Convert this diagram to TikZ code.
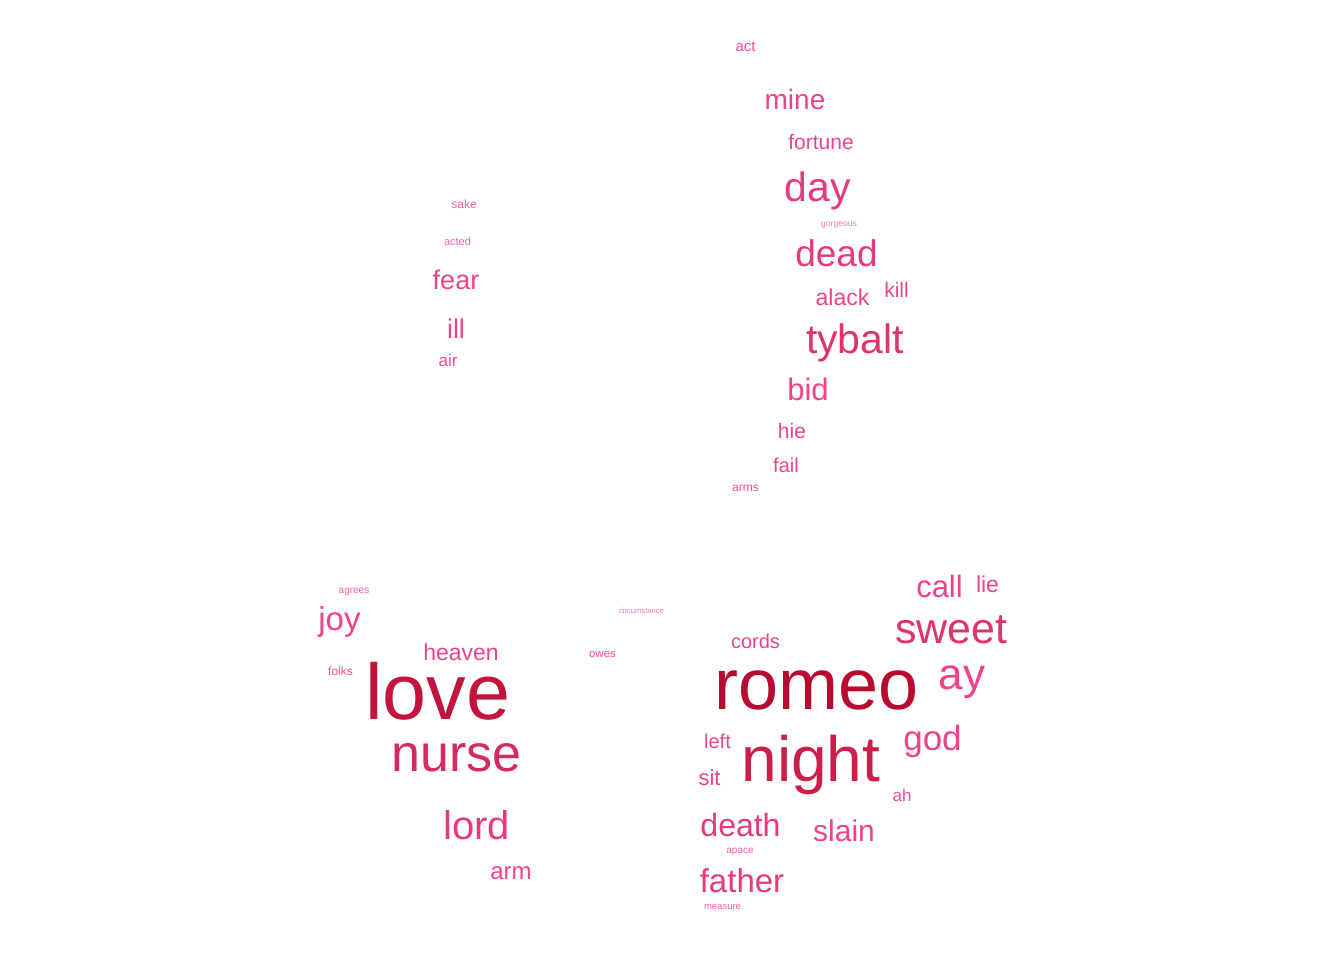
\documentclass[tikz,border=0pt]{standalone}
\usepackage{fontspec}
\setmainfont{Liberation Sans}
\definecolor{wc1}{HTML}{B80A30}
\definecolor{wc2}{HTML}{C2143C}
\definecolor{wc3}{HTML}{CC1E4A}
\definecolor{wc4}{HTML}{D62A5E}
\definecolor{wc5}{HTML}{DF326E}
\definecolor{wc6}{HTML}{E8397C}
\definecolor{wc7}{HTML}{EE4389}
\definecolor{wc8}{HTML}{F24E94}
\definecolor{wc9}{HTML}{F562A2}
\definecolor{wc10}{HTML}{F778B4}
\tikzset{
  word/.style 2 args={anchor=base, inner sep=0pt, text=#2, font=\fontsize{#1}{#1}\selectfont}
}
\begin{document}
\begin{tikzpicture}[x=1pt,y=-1pt]
	\useasboundingbox (0,0) rectangle (1344,960);
	% upper cluster
	\node[word={15}{wc8}] (act) at (745.5,52) {act};
	\node[word={28}{wc7}] (mine) at (795,110) {mine};
	\node[word={21}{wc7}] (fortune) at (821,150) {fortune};
	\node[word={41}{wc6}] (day) at (818,202) {day};
	\node[word={8.6}{wc10}] (gorgeous) at (839,226.5) {gorgeous};
	\node[word={37}{wc6}] (dead) at (836.5,266) {dead};
	\node[word={23}{wc7}] (alack) at (842.5,305) {alack};
	\node[word={21}{wc7}] (kill) at (896.5,297) {kill};
	\node[word={41}{wc5}] (tybalt) at (855,353) {tybalt};
	\node[word={31}{wc7}] (bid) at (808,400) {bid};
	\node[word={21}{wc7}] (hie) at (792,438) {hie};
	\node[word={20}{wc7}] (fail) at (786,472) {fail};
	\node[word={12}{wc8}] (arms) at (745.5,491.5) {arms};
	%
	\node[word={12}{wc9}] (sake) at (464,208.5) {sake};
	\node[word={11}{wc9}] (acted) at (457.5,245) {acted};
	\node[word={27}{wc7}] (fear) at (456,289) {fear};
	\node[word={27}{wc7}] (ill) at (456,338) {ill};
	\node[word={17}{wc8}] (air) at (448,366) {air};
	% lower left cluster
	\node[word={10}{wc9}] (agrees) at (354,593.5) {agrees};
	\node[word={33}{wc7}] (joy) at (339.5,630) {joy};
	\node[word={12}{wc8}] (folks) at (340.5,675.5) {folks};
	\node[word={23}{wc7}] (heaven) at (461,660) {heaven};
	\node[word={79}{wc2}] (love) at (437.5,719) {love};
	\node[word={52}{wc4}] (nurse) at (456.5,771) {nurse};
	\node[word={40}{wc6}] (lord) at (476.5,839) {lord};
	\node[word={24}{wc7}] (arm) at (511,879) {arm};
	\node[word={7.6}{wc10}] (circumstance) at (641.5,613) {circumstance};
	\node[word={11.5}{wc8}] (owes) at (602.5,657.5) {owes};
	% lower right cluster
	\node[word={31}{wc7}] (call) at (939.5,597.5) {call};
	\node[word={23}{wc7}] (lie) at (987.5,592.5) {lie};
	\node[word={43}{wc5}] (sweet) at (951.5,643) {sweet};
	\node[word={20}{wc7}] (cords) at (755.5,648) {cords};
	\node[word={44}{wc7}] (ay) at (962,689) {ay};
	\node[word={72}{wc1}] (romeo) at (817,709) {romeo};
	\node[word={20}{wc7}] (left) at (717.5,748) {left};
	\node[word={64}{wc3}] (night) at (811,781) {night};
	\node[word={35}{wc7}] (god) at (932.5,750) {god};
	\node[word={22}{wc7}] (sit) at (709.5,785) {sit};
	\node[word={17}{wc8}] (ah) at (902,801) {ah};
	\node[word={32}{wc6}] (death) at (740.5,836) {death};
	\node[word={30}{wc7}] (slain) at (844,841) {slain};
	\node[word={10}{wc9}] (apace) at (740,853.5) {apace};
	\node[word={33}{wc6}] (father) at (742,892) {father};
	\node[word={9.5}{wc9}] (measure) at (722.5,909.5) {measure};
\end{tikzpicture}
\end{document}
